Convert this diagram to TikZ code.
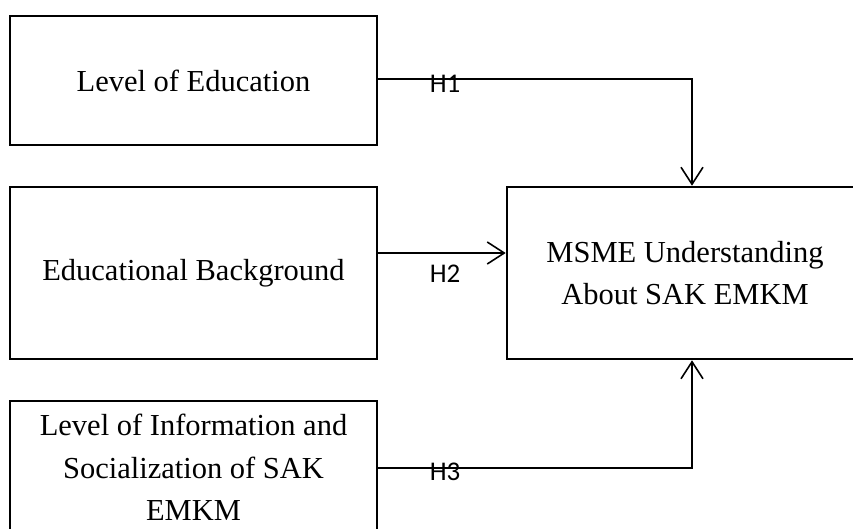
\documentclass[tikz,border=0pt]{standalone}
\usepackage{fontspec}
\setmainfont{Liberation Serif}
\newfontfamily\hfont{Carlito}
\usetikzlibrary{arrows.meta}

\begin{document}
\begin{tikzpicture}[x=1pt, y=-1pt,
  varbox/.style={draw, line width=2.6pt, inner sep=0pt, align=center,
    minimum width=367pt, font=\fontsize{30.5}{42.5}\selectfont},
  link/.style={line width=1.4pt},
  arr/.style={link, -{Straight Barb[length=17pt, width=22pt, line width=1.6pt]}},
  hyp/.style={inner sep=0pt, font=\hfont\fontsize{27}{30}\selectfont}]

\useasboundingbox (0, 0) rectangle (853, 528);
\clip (0, 0) rectangle (853, 528);

\node[varbox, minimum height=129pt] (edu) at (193.5, 80.5) {Level of Education};
\node[varbox, minimum height=172pt] (bg) at (193.5, 273) {Educational Background};
\node[varbox, minimum height=133pt] (info) at (193.5, 467.5) {Level of Information and\\Socialization of SAK\\EMKM};
\node[varbox, minimum width=356pt, minimum height=172pt] (msme) at (685, 273) {MSME Understanding\\About SAK EMKM};

\coordinate (j1) at (692, 79);
\coordinate (j2) at (377, 253);
\coordinate (j3) at (692, 468);

\draw[arr] (edu.east |- j1) -- (j1) -- (msme.north -| j1);
\draw[arr] (j2) -- (msme.west |- j2);
\draw[arr] (info.east |- j3) -- (j3) -- (msme.south -| j3);

\node[hyp] (h1) at (445, 84) {H1};
\node[hyp] (h2) at (445, 274) {H2};
\node[hyp] (h3) at (445, 472) {H3};

\end{tikzpicture}
\end{document}
